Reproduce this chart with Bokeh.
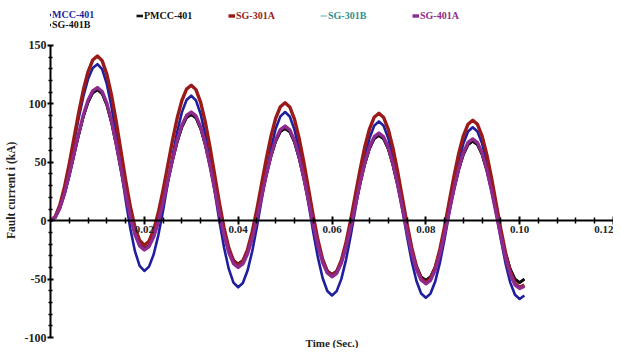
from bokeh.plotting import figure
from bokeh.models import (Range1d, FixedTicker, NumeralTickFormatter, Legend, LegendItem,
                          Label, ColumnDataSource, CustomJSTickFormatter)
from bokeh.embed import file_html
from bokeh.resources import INLINE

# ---- data ----
time_s = [round(i * 0.001, 3) for i in range(102)]

mcc_401 = [0, 3.3, 12.8, 27.6, 46.3, 67, 87.7, 106.4, 121.2, 130.7, 134,
           129.7, 117.1, 97.5, 72.8, 45.5, 18.2, -6.5, -26.1, -38.7, -43,
           -39.3, -28.7, -12.1, 8.8, 32, 55.2, 76.1, 92.7, 103.3, 107,
           103, 91.3, 73.2, 50.3, 25, -0.3, -23.2, -41.3, -53, -57,
           -53.3, -42.7, -26.1, -5.2, 18, 41.2, 62.1, 78.7, 89.3, 93,
           89.2, 78, 60.6, 38.8, 14.5, -9.8, -31.6, -49, -60.2, -64,
           -60.3, -49.8, -33.3, -12.5, 10.5, 33.5, 54.3, 70.8, 81.3, 85,
           81.3, 70.6, 53.9, 32.8, 9.5, -13.8, -34.9, -51.6, -62.3, -66,
           -62.4, -52.1, -35.9, -15.6, 7, 29.6, 49.9, 66.1, 76.4, 80,
           76.4, 66, 49.7, 29.2, 6.5, -16.2, -36.7, -53, -63.4, -67,
           -64]

pmcc_401 = [0, 2.7, 10.7, 23.1, 38.7, 56, 73.3, 88.9, 101.3, 109.3, 112,
            108.7, 99, 84, 65, 44, 23, 4, -11, -20.7, -24,
            -21.2, -13, -0.3, 15.7, 33.5, 51.3, 67.3, 80, 88.2, 91,
            87.9, 78.8, 64.6, 46.8, 27, 7.2, -10.6, -24.8, -33.9, -37,
            -34.2, -25.9, -13.1, 3.1, 21, 38.9, 55.1, 67.9, 76.2, 79,
            75.9, 67.1, 53.2, 35.8, 16.5, -2.8, -20.2, -34.1, -42.9, -46,
            -43.1, -34.6, -21.5, -4.9, 13.5, 31.9, 48.5, 61.6, 70.1, 73,
            70, 61.2, 47.4, 30.2, 11, -8.2, -25.4, -39.2, -48, -51,
            -48.1, -39.6, -26.5, -9.9, 8.5, 26.9, 43.5, 56.6, 65.1, 68,
            65, 56.4, 43.1, 26.2, 7.5, -11.2, -28.1, -41.4, -50, -53,
            -50]

sg_301a = [0, 3.5, 13.5, 29.1, 48.7, 70.5, 92.3, 111.9, 127.5, 137.5, 141,
           137, 125.5, 107.6, 85, 60, 35, 12.4, -5.5, -17, -21,
           -17.6, -7.9, 7.2, 26.3, 47.5, 68.7, 87.8, 102.9, 112.6, 116,
           112.2, 101.3, 84.3, 62.8, 39, 15.2, -6.3, -23.3, -34.2, -38,
           -34.6, -24.7, -9.4, 10, 31.5, 53, 72.4, 87.7, 97.6, 101,
           97.4, 86.9, 70.5, 49.9, 27, 4.1, -16.5, -32.9, -43.4, -47,
           -43.6, -33.7, -18.4, 1, 22.5, 44, 63.4, 78.7, 88.6, 92,
           88.4, 78.2, 62.1, 41.9, 19.5, -2.9, -23.1, -39.2, -49.4, -53,
           -49.6, -39.7, -24.4, -5, 16.5, 38, 57.4, 72.7, 82.6, 86,
           82.5, 72.3, 56.5, 36.6, 14.5, -7.6, -27.5, -43.3, -53.5, -57,
           -55]

sg_401a = [0, 2.8, 10.9, 23.5, 39.4, 57, 74.6, 90.5, 103.1, 111.2, 114,
           110.6, 100.7, 85.4, 66, 44.5, 23, 3.6, -11.7, -21.6, -25,
           -22.1, -13.7, -0.7, 15.8, 34, 52.2, 68.7, 81.7, 90.1, 93,
           89.7, 80.3, 65.6, 47, 26.5, 6, -12.6, -27.3, -36.7, -40,
           -37, -28.4, -15.1, 1.8, 20.5, 39.2, 56.1, 69.4, 78, 81,
           77.8, 68.7, 54.4, 36.4, 16.5, -3.4, -21.4, -35.7, -44.8, -48,
           -45, -36.3, -22.6, -5.5, 13.5, 32.5, 49.6, 63.3, 72, 75,
           71.8, 62.7, 48.4, 30.4, 10.5, -9.4, -27.4, -41.7, -50.8, -54,
           -51, -42.2, -28.4, -11.2, 8, 27.2, 44.4, 58.2, 67, 70,
           66.9, 57.8, 43.6, 25.8, 6, -13.8, -31.6, -45.8, -54.9, -58,
           -56]

# SG-301B and SG-401B lie underneath the other traces in the reference
sg_301b = list(sg_401a)
sg_401b = list(pmcc_401)

series_names = ["MCC-401", "PMCC-401", "SG-301A", "SG-301B", "SG-401A", "SG-401B"]
x_ticks = [0.02, 0.04, 0.06, 0.08, 0.10, 0.12]
y_ticks = [-100, -50, 0, 50, 100, 150]

colors = {"MCC-401": "#1f1f9e", "PMCC-401": "#111111", "SG-301A": "#9a1a1a",
          "SG-301B": "#5fb0b0", "SG-401A": "#8e2a8e", "SG-401B": "#111111"}
text_colors = {"MCC-401": "#1f1f9e", "PMCC-401": "#111111", "SG-301A": "#9a1a1a",
               "SG-301B": "#2f8f8f", "SG-401A": "#8e2a8e", "SG-401B": "#111111"}
widths = {"MCC-401": 2.6, "PMCC-401": 2.6, "SG-301A": 3.4,
          "SG-301B": 1, "SG-401A": 3.4, "SG-401B": 2.6}
values = {"MCC-401": mcc_401, "PMCC-401": pmcc_401, "SG-301A": sg_301a,
          "SG-301B": sg_301b, "SG-401A": sg_401a, "SG-401B": sg_401b}

SERIF = "Liberation Serif"
NBSP = "\u00a0"

p = figure(width=613, height=348, output_backend="svg", toolbar_location=None,
           x_range=Range1d(0, 0.12), y_range=Range1d(-109.4, 188.5),
           min_border_left=50, min_border_right=0, min_border_top=0, min_border_bottom=0)
p.outline_line_color = None
p.grid.visible = False
p.background_fill_color = "white"

renderers = {}
for name in ["SG-401B", "MCC-401", "PMCC-401", "SG-301B", "SG-301A", "SG-401A"]:
    src = ColumnDataSource(dict(t=time_s, i=values[name]))
    renderers[name] = p.line("t", "i", source=src, color=colors[name],
                             line_width=widths[name], line_join="round")

# x axis crossing at y = 0
xa = p.xaxis[0]
xa.fixed_location = 0
xa.bounds = (0, 0.12)
minor_x = [round(0.004 * k, 3) for k in range(1, 31) if (k % 5) != 0]
xa.ticker = FixedTicker(ticks=x_ticks, minor_ticks=minor_x)
xa.formatter = NumeralTickFormatter(format="0.00")
xa.axis_line_width = 2
xa.axis_line_color = "#000000"
xa.major_tick_in = 4
xa.major_tick_out = 4
xa.minor_tick_in = 3
xa.minor_tick_out = 3
xa.major_tick_line_width = 2
xa.minor_tick_line_width = 1.5
xa.major_label_text_font = SERIF
xa.major_label_text_font_style = "bold"
xa.major_label_text_font_size = "11px"
xa.major_label_text_color = "#222222"
xa.major_label_standoff = 1

ya = p.yaxis[0]
ya.bounds = (-100, 150)
minor_y = [v for v in range(-100, 151, 10) if v % 50 != 0]
ya.ticker = FixedTicker(ticks=y_ticks, minor_ticks=minor_y)
ya.formatter = CustomJSTickFormatter(code="return String(Math.round(tick));")
ya.axis_line_width = 2
ya.axis_line_color = "#000000"
ya.major_tick_in = 3
ya.major_tick_out = 3
ya.minor_tick_in = 2
ya.minor_tick_out = 2
ya.major_tick_line_width = 2
ya.minor_tick_line_width = 1.5
ya.major_label_text_font = SERIF
ya.major_label_text_font_style = "bold"
ya.major_label_text_font_size = "12px"
ya.major_label_text_color = "#222222"
ya.major_label_standoff = 1
# trailing no-break spaces shift the centred title down, as in the reference
ya.axis_label = "Fault current i (kA)" + NBSP * 11
ya.axis_label_text_font = SERIF
ya.axis_label_text_font_style = "bold"
ya.axis_label_text_font_size = "11.5px"
ya.axis_label_text_color = "#222222"
ya.axis_label_standoff = 5

p.add_layout(Label(x=0.060, y=-109.4, text="Time (Sec.)", text_font=SERIF,
                   text_font_style="bold", text_font_size="11px", text_color="#222222",
                   text_align="center", text_baseline="bottom"))

# legends: one per series, placed like the reference
legend_pos = {"MCC-401": (-6, 328), "SG-401B": (-6, 318), "PMCC-401": (86, 327),
              "SG-301A": (178, 327), "SG-301B": (270, 327), "SG-401A": (362, 327)}
for name in series_names:
    lg = Legend(items=[LegendItem(label=name, renderers=[renderers[name]])],
                location=legend_pos[name], orientation="horizontal",
                border_line_alpha=0, background_fill_alpha=0,
                glyph_width=7, glyph_height=9, label_height=9, label_standoff=1,
                padding=0, margin=0, spacing=0,
                label_text_font=SERIF, label_text_font_style="bold",
                label_text_font_size="10px", label_text_color=text_colors[name],
                label_text_line_height=0.9)
    p.add_layout(lg, "center")

open("out.html", "w").write(file_html(p, INLINE))
